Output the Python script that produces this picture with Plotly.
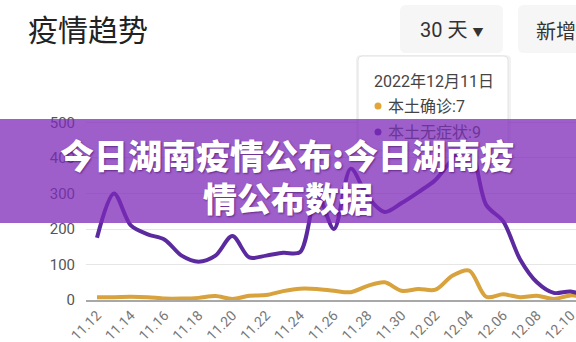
import plotly.graph_objects as go

# ---------------- data ----------------
dates = ["11.12", "11.13", "11.14", "11.15", "11.16", "11.17", "11.18", "11.19", "11.20", "11.21",
         "11.22", "11.23", "11.24", "11.25", "11.26", "11.27", "11.28", "11.29", "11.30", "12.01",
         "12.02", "12.03", "12.04", "12.05", "12.06", "12.07", "12.08", "12.09", "12.10", "12.11"]
local_confirmed = [8, 8, 9, 8, 4, 4, 6, 11, 3, 12, 14, 25, 32, 31, 26, 22, 40, 50, 26, 31,
                   29, 68, 83, 9, 16, 8, 12, 3, 13, 7]
local_asymptomatic = [175, 300, 210, 185, 170, 125, 108, 125, 180, 120, 125, 133, 135, 300, 200,
                      370, 290, 248, 273, 304, 338, 395, 430, 268, 222, 115, 50, 20, 24, 9]
y_ticks = [0, 100, 200, 300, 400, 500]
x_ticks = dates[::2]

title_text = "疫情趋势"
range_btn = "30 天"
mode_btn = "新增"
tip_date = "2022年12月11日"
tip_line1 = "本土确诊:7"
tip_line2 = "本土无症状:9"
banner_l1 = "今日湖南疫情公布:今日湖南疫"
banner_l2 = "情公布数据"

PURPLE = "#5a2a9e"
GOLD = "#d8a23c"

# ---------------- layout geometry (pixels) ----------------
WIDTH, HEIGHT = 576, 342
L, R, T, B = 86, 576, 115, 300
W, H = R - L, B - T


def px(x):
    return (x - L) / W


def py(y):
    return (B - y) / H


def rrect(x0, y0, x1, y1, r):
    rx, ry = r / W, r / H
    a0, a1 = px(x0), px(x1)
    b0, b1 = py(y0), py(y1)  # b0 top (larger), b1 bottom
    return (f"M{a0+rx},{b0} L{a1-rx},{b0} Q{a1},{b0} {a1},{b0-ry} "
            f"L{a1},{b1+ry} Q{a1},{b1} {a1-rx},{b1} L{a0+rx},{b1} "
            f"Q{a0},{b1} {a0},{b1+ry} L{a0},{b0-ry} Q{a0},{b0} {a0+rx},{b0} Z")


fig = go.Figure()
fig.add_trace(go.Scatter(x=dates, y=local_confirmed, mode="lines",
                         line=dict(color=GOLD, width=4, shape="spline", smoothing=0.9),
                         hoverinfo="skip"))
fig.add_trace(go.Scatter(x=dates, y=local_asymptomatic, mode="lines",
                         line=dict(color=PURPLE, width=4, shape="spline", smoothing=0.9),
                         hoverinfo="skip"))

CJK = "Noto Sans CJK SC"
NUM = "Roboto, Noto Sans CJK SC"

shapes = []
# buttons
shapes.append(dict(type="path", xref="paper", yref="paper", path=rrect(400, 5, 503, 53, 6),
                   fillcolor="#f6f6f6", line=dict(width=0), layer="above"))
shapes.append(dict(type="path", xref="paper", yref="paper", path=rrect(518, 5, 600, 53, 6),
                   fillcolor="#f6f6f6", line=dict(width=0), layer="above"))
# tooltip shadow + box
shapes.append(dict(type="path", xref="paper", yref="paper", path=rrect(356, 55, 511, 152, 5),
                   fillcolor="rgba(0,0,0,0.05)", line=dict(width=0), layer="above"))
shapes.append(dict(type="path", xref="paper", yref="paper", path=rrect(358, 56, 508, 150, 4),
                   fillcolor="white", line=dict(color="#e2e2e2", width=1), layer="above"))
# tooltip dots
shapes.append(dict(type="circle", xref="paper", yref="paper",
                   x0=px(374.5), x1=px(381.5), y0=py(102.5), y1=py(109.5),
                   fillcolor="#e0a638", line=dict(width=0), layer="above"))
shapes.append(dict(type="circle", xref="paper", yref="paper",
                   x0=px(374.5), x1=px(381.5), y0=py(128.5), y1=py(135.5),
                   fillcolor=PURPLE, line=dict(width=0), layer="above"))
# banner
shapes.append(dict(type="rect", xref="paper", yref="paper",
                   x0=px(0), x1=px(576), y0=py(119), y1=py(223),
                   fillcolor="rgba(126,42,185,0.75)", line=dict(width=0), layer="above"))

annotations = [
    dict(text=title_text, x=px(26), y=py(28), xanchor="left", yanchor="middle",
         font=dict(family=CJK, size=30, color="#222222")),
    dict(text=range_btn + ' <span style="font-size:11px">▼</span>', x=px(451), y=py(30),
         xanchor="center", yanchor="middle", font=dict(family=NUM, size=20, color="#333333")),
    dict(text=mode_btn, x=px(534), y=py(30), xanchor="left", yanchor="middle",
         font=dict(family=CJK, size=20, color="#333333")),
    dict(text=tip_date, x=px(372), y=py(81), xanchor="left", yanchor="middle",
         font=dict(family=NUM, size=16, color="#444444")),
    dict(text=tip_line1, x=px(386), y=py(106), xanchor="left", yanchor="middle",
         font=dict(family=NUM, size=16, color="#444444")),
    dict(text=tip_line2, x=px(386), y=py(132), xanchor="left", yanchor="middle",
         font=dict(family=NUM, size=16, color="#6c3598")),
    dict(text=banner_l1, x=px(287), y=py(154), xanchor="center", yanchor="middle",
         font=dict(family=CJK, size=34, color="white", weight=900,
                   shadow="1px 1px 2px rgba(60,0,90,0.6)")),
    dict(text=banner_l2, x=px(288), y=py(197), xanchor="center", yanchor="middle",
         font=dict(family=CJK, size=34, color="white", weight=900,
                   shadow="1px 1px 2px rgba(60,0,90,0.6)")),
]
for a in annotations:
    a.update(xref="paper", yref="paper", showarrow=False)

fig.update_layout(
    template="none",
    width=WIDTH, height=HEIGHT,
    margin=dict(l=L, r=WIDTH - R, t=T, b=HEIGHT - B, pad=0),
    paper_bgcolor="white", plot_bgcolor="white",
    showlegend=False,
    shapes=shapes,
    annotations=annotations,
    xaxis=dict(type="category", range=[-0.65, 28.31], tickmode="array", tickvals=x_ticks,
               ticktext=x_ticks, tickangle=-45, showgrid=False, zeroline=False,
               showline=True, linecolor="#a8a8a8", linewidth=1.5, ticks="",
               tickfont=dict(family=NUM, size=14, color="#777777"), automargin=False,
               fixedrange=True),
    yaxis=dict(range=[0, 521.1], tickmode="array", tickvals=y_ticks,
               showgrid=True, gridcolor="#e6e6e6", gridwidth=1, zeroline=False,
               showline=False, ticks="", ticklabelstandoff=10,
               tickfont=dict(family=NUM, size=15, color="#555555"), automargin=False,
               fixedrange=True),
)

fig.write_html("out.html", config={"displayModeBar": False})
